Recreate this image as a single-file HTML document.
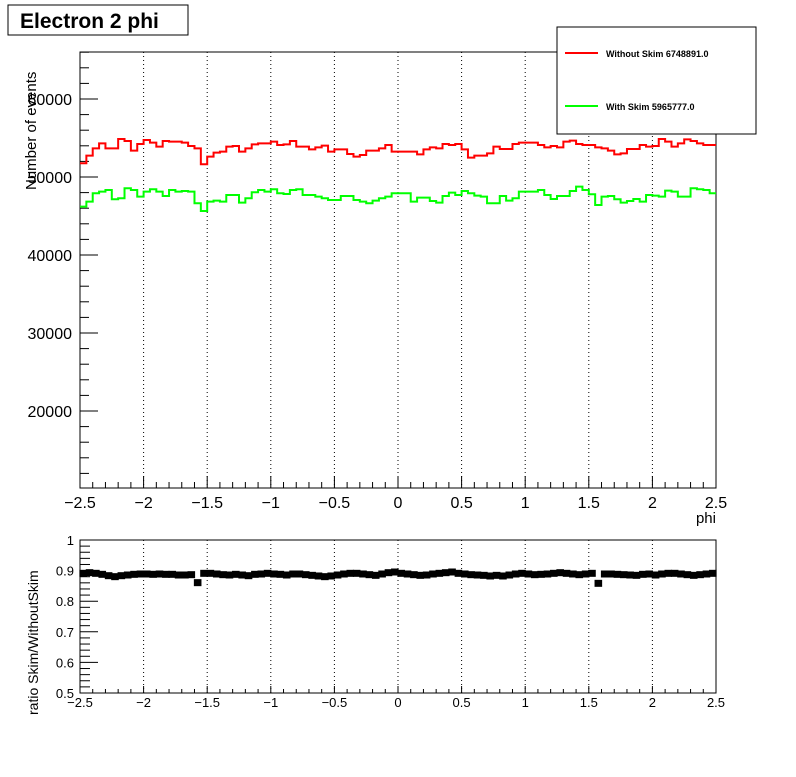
<!DOCTYPE html>
<html><head><meta charset="utf-8"><style>
body{margin:0;background:#fff;}
svg text{font-family:"Liberation Sans",Arial,sans-serif;}
</style></head><body>
<svg id="c" width="796" height="772" xmlns="http://www.w3.org/2000/svg">
<rect width="796" height="772" fill="#fff"/>
<g id="topPad"></g>
<g id="botPad"></g>
<rect x="8" y="5" width="180" height="30" fill="#fff" stroke="#000"/>
<text x="20" y="28" font-size="21" font-weight="bold">Electron 2 phi</text>
<g>
<rect x="557" y="27" width="199" height="107" fill="#fff" stroke="#000"/>
<line x1="565" y1="53" x2="598" y2="53" stroke="#f00" stroke-width="2"/>
<text x="606" y="57" font-size="9" font-weight="bold">Without Skim 6748891.0</text>
<line x1="565" y1="106" x2="598" y2="106" stroke="#0f0" stroke-width="2"/>
<text x="606" y="110" font-size="9" font-weight="bold">With Skim 5965777.0</text>
</g>
<text x="716" y="523" font-size="15" text-anchor="end">phi</text>
<text transform="translate(36,190) rotate(-90)" font-size="15">Number of events</text>
<text transform="translate(38,715) rotate(-90)" font-size="14">ratio Skim/WithoutSkim</text>
</svg>
<script>
// pixel heights read from zoom (converted to values below)
const redZ=[100,77,55,40,55,55,27,33,62,42,30,38,50,33,35,35,38,48,55,103,80,68,65,50,48,65,55,43,40,40,35,45,43,33,
50,50,58,52,47,65,58,58,72,80,75,62,62,55,45,65,65,65,65,73,58,52,55,42,45,42,58,83,77,77,70,50,
57,57,42,38,38,38,45,52,48,52,35,32,42,45,45,52,55,62,73,70,57,57,45,50,48,27,35,50,40,28,33,40,45,45];
const greenZ=[230,215,190,185,180,208,205,175,180,200,185,178,185,198,180,185,183,185,220,243,215,212,215,195,195,218,205,187,180,185,178,190,192,180,
178,195,195,200,205,210,210,198,198,210,215,220,212,205,200,190,190,190,215,203,203,213,218,198,188,195,183,190,197,200,220,220,
198,212,205,185,185,185,180,195,207,198,198,183,170,180,193,225,200,198,208,218,213,207,215,195,197,200,182,185,200,200,175,178,180,190];
const ratioZ=[40,38,40,43,47,50,47,45,43,42,42,43,42,43,43,45,45,44,68,40,40,42,44,45,43,45,47,43,42,40,42,43,45,42,
42,44,46,48,50,48,45,42,40,40,42,44,46,42,38,36,40,42,44,46,45,42,40,38,36,40,42,44,45,46,48,46,
48,45,42,40,42,44,43,42,40,38,40,42,44,42,40,70,42,42,43,44,45,46,43,42,45,42,40,40,42,44,46,44,42,40];
const withoutSkim=redZ.map(z=>Math.round(56025-42.7*z));
const withSkim=greenZ.map(z=>Math.round(56025-42.7*z));
const ratio=ratioZ.map(z=>+(0.5+(133-z/3)/306).toFixed(4));
const xTicks=[-2.5,-2,-1.5,-1,-0.5,0,0.5,1,1.5,2,2.5];
const xTickLabels=["\u22122.5","\u22122","\u22121.5","\u22121","\u22120.5","0","0.5","1","1.5","2","2.5"];
const yTicks=[20000,30000,40000,50000,60000];
const rTicks=[0.5,0.6,0.7,0.8,0.9,1];
const rTickLabels=["0.5","0.6","0.7","0.8","0.9","1"];

const NS="http://www.w3.org/2000/svg";
const X0=80,X1=716;
const sx=v=>X0+(v+2.5)/5*(X1-X0);
const T0=52,T1=488;
const sy=v=>177-(v-50000)*78/10000;
const B0=540,B1=693;
const ry=v=>B1-(v-0.5)*306;
function mk(tag,attrs,parent){const e=document.createElementNS(NS,tag);for(const k in attrs)e.setAttribute(k,attrs[k]);parent.appendChild(e);return e;}
const topG=document.getElementById('topPad'),botG=document.getElementById('botPad');

function frame(g,y0,y1,isTop){
  let r=mk('rect',{x:X0,y:y0,width:X1-X0,height:y1-y0,fill:'none',stroke:'#000'},g);
  
  
  for(let i=1;i<xTicks.length-1;i++){
    let l=mk('line',{x1:sx(xTicks[i]),x2:sx(xTicks[i]),y1:y0,y2:y1,stroke:'#000','stroke-dasharray':'1,3'},g);
    
    
  }
  for(let k=0;k<=50;k++){
    const v=-2.5+k*0.1;
    const maj=k%5===0;
    const len=maj?(isTop?12:7):(isTop?6:4);
    let l=mk('line',{x1:sx(v),x2:sx(v),y1:y1,y2:y1-len,stroke:'#000'},g);
    
    
  }
  xTicks.forEach((v,i)=>{
    let t=mk('text',{x:sx(v),y:isTop?y1+20:y1+14,'font-size':isTop?16:13,'text-anchor':'middle'},g);
    t.textContent=xTickLabels[i];
    
    
  });
}
frame(topG,T0,T1,true);
frame(botG,B0,B1,false);

for(let v=12000;v<=66000;v+=2000){
  const y=sy(v); if(y<T0||y>T1)continue;
  const maj=v%10000===0;
  let l=mk('line',{x1:X0,x2:X0+(maj?18:9),y1:y,y2:y,stroke:'#000'},topG);
  
  
}
yTicks.forEach(v=>{
  let t=mk('text',{x:X0-8,y:sy(v)+6,'font-size':16,'text-anchor':'end'},topG);
  t.textContent=String(v);
  
  
});
for(let k=0;k<=25;k++){
  const v=0.5+k*0.02;
  const maj=k%5===0;
  let l=mk('line',{x1:X0,x2:X0+(maj?18:10),y1:ry(v),y2:ry(v),stroke:'#000'},botG);
  
  
}
rTicks.forEach((v,i)=>{
  let t=mk('text',{x:X0-6,y:ry(v)+5,'font-size':13,'text-anchor':'end'},botG);
  t.textContent=rTickLabels[i];
  
  
});

function hist(vals,color,name){
  const n=vals.length,w=5/n;let d='';
  vals.forEach((v,i)=>{
    const xa=sx(-2.5+i*w),xb=sx(-2.5+(i+1)*w),y=sy(v);
    d+=(i===0?'M':'L')+xa.toFixed(2)+','+y.toFixed(2)+'L'+xb.toFixed(2)+','+y.toFixed(2);
  });
  let p=mk('path',{d:d,fill:'none',stroke:color,'stroke-width':2},topG);
  
  
}
hist(withoutSkim,'#f00','hist-without-skim');
hist(withSkim,'#0f0','hist-with-skim');

const nb=ratio.length,bw=5/nb;
for(let i=0;i<nb;i++){
  const cx=sx(-2.5+(i+0.5)*bw);
  let m=mk('rect',{x:cx-3.8,y:ry(ratio[i])-3.5,width:7.6,height:7,fill:'#000'},botG);
  
  
}
</script>
</body></html>
